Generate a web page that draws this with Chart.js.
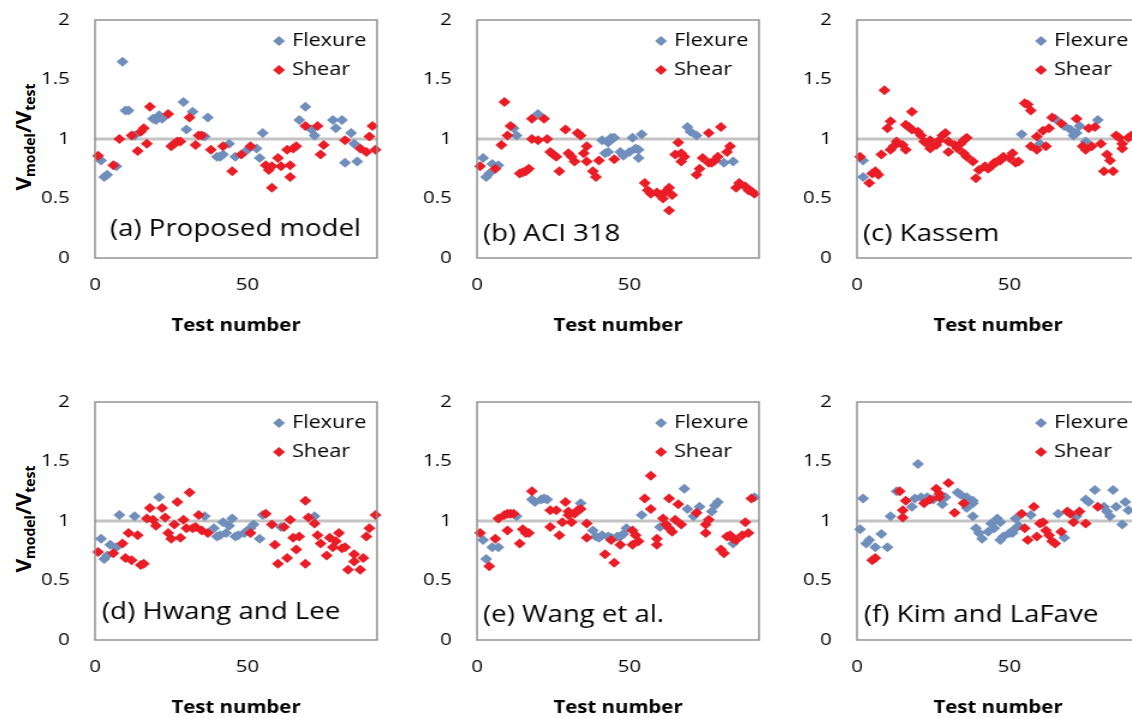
<!DOCTYPE html>
<html>
<head>
<meta charset="utf-8">
<script src="https://cdn.jsdelivr.net/npm/chart.js@4.4.1/dist/chart.umd.min.js"></script>
<style>
body { margin: 0; width: 1132px; height: 718px; overflow: hidden; background: #fff; font-family: "Open Sans", sans-serif; }
.wrap { position: absolute; transform-origin: 0 0; }
.wrap canvas { display: block; }
.ytitle { position: absolute; font-weight: bold; font-size: 21px; color: #000; white-space: nowrap;
  transform: translate(-50%, -50%) rotate(-90deg); }
.ytitle sub { font-size: 14px; vertical-align: -4px; }
</style>
</head>
<body>
<div class="ytitle" style="left:24px;top:137px">V<sub>model</sub>/V<sub>test</sub></div>
<div class="ytitle" style="left:24px;top:519px">V<sub>model</sub>/V<sub>test</sub></div>
<script>
// [test number, Vmodel/Vtest]
const aFlexure = [[2,0.82],[3,0.68],[4,0.70],[7,0.77],[9,1.65],[10,1.24],[11,1.24],[13,1.03],[19,1.17],[20,1.16],[21,1.20],[22,1.17],[29,1.31],[30,1.08],[32,1.23],[36,1.02],[37,1.18],[40,0.85],[41,0.85],[42,0.87],[44,0.96],[46,0.85],[50,0.91],[53,0.92],[54,0.84],[55,1.05],[67,1.16],[69,1.27],[71,1.08],[72,1.03],[78,1.16],[79,1.09],[81,1.16],[82,0.80],[84,1.05],[85,0.96],[86,0.81]]
const aShear = [[1,0.86],[6,0.78],[8,1.00],[12,1.03],[14,0.90],[15,1.06],[16,1.09],[17,0.96],[18,1.27],[24,1.21],[25,0.94],[26,0.96],[27,0.98],[28,0.98],[31,1.18],[33,0.95],[34,1.03],[35,1.03],[38,0.91],[42,0.94],[45,0.73],[48,0.87],[51,0.94],[56,0.78],[57,0.74],[58,0.59],[58,0.77],[60,0.84],[61,0.77],[63,0.91],[64,0.78],[64,0.68],[65,0.92],[66,0.94],[69,1.11],[73,1.11],[74,0.87],[75,0.95],[82,0.99],[87,0.92],[89,0.89],[90,1.02],[91,1.11],[92,0.91]]

const bFlexure = [[2,0.84],[3,0.68],[4,0.71],[5,0.79],[7,0.78],[12,1.09],[13,1.03],[20,1.21],[41,0.99],[42,0.88],[43,0.97],[43,0.89],[44,1.01],[45,1.01],[47,0.89],[48,0.86],[50,0.89],[51,1.01],[52,0.92],[53,0.91],[53,0.84],[54,1.04],[69,1.10],[70,1.06],[72,1.03],[81,0.80],[84,0.81]]
const bShear = [[1,0.77],[6,0.75],[8,0.95],[9,1.31],[10,1.03],[11,1.11],[14,0.71],[15,0.72],[16,0.73],[17,0.75],[18,1.17],[18,1.00],[20,0.99],[22,1.17],[23,1.00],[24,0.89],[25,0.87],[26,0.85],[27,0.73],[29,1.08],[30,0.88],[31,0.85],[32,0.81],[33,1.05],[34,1.03],[35,0.88],[36,0.81],[36,0.94],[38,0.73],[39,0.68],[40,0.82],[45,0.83],[55,0.63],[56,0.57],[57,0.54],[59,0.55],[60,0.53],[61,0.50],[62,0.56],[63,0.40],[63,0.59],[64,0.53],[65,0.87],[66,0.97],[67,0.81],[67,0.88],[68,0.85],[72,0.70],[73,0.75],[74,0.84],[76,0.80],[76,1.05],[77,0.80],[78,0.82],[79,0.85],[80,1.10],[82,0.89],[83,0.94],[85,0.59],[86,0.63],[88,0.60],[89,0.57],[90,0.56],[91,0.54]]

const cFlexure = [[2,0.82],[2,0.68],[54,1.04],[60,0.96],[65,1.17],[68,1.11],[70,1.08],[71,1.03],[72,1.05],[73,1.11],[75,0.98],[79,1.16]]
const cShear = [[1,0.85],[4,0.63],[5,0.71],[6,0.73],[7,0.70],[8,0.87],[9,1.41],[10,1.09],[11,1.15],[11,0.91],[12,0.94],[13,0.98],[15,0.95],[16,0.91],[16,1.12],[17,1.10],[18,1.23],[18,1.08],[20,1.06],[21,1.03],[22,0.98],[23,0.96],[24,0.99],[24,0.92],[26,0.95],[27,0.99],[28,1.03],[29,1.05],[30,0.89],[30,0.98],[32,0.95],[33,0.92],[34,0.96],[35,0.99],[35,0.88],[36,1.01],[36,0.85],[38,0.81],[39,0.67],[40,0.74],[42,0.77],[43,0.75],[44,0.77],[45,0.80],[46,0.81],[47,0.82],[48,0.85],[50,0.84],[51,0.88],[52,0.80],[53,0.81],[55,1.30],[56,1.29],[57,1.24],[57,0.94],[59,1.02],[59,0.91],[61,1.07],[62,0.94],[63,1.09],[64,1.18],[67,1.13],[72,1.17],[74,0.94],[75,0.91],[76,1.09],[77,0.94],[78,1.10],[80,0.96],[81,0.73],[82,0.87],[83,0.82],[84,0.73],[85,1.03],[86,1.01],[87,0.92],[87,0.96],[89,1.01],[90,1.03]]

const dFlexure = [[2,0.85],[3,0.68],[4,0.71],[5,0.80],[7,0.78],[8,1.05],[13,1.04],[21,1.20],[36,1.04],[39,0.94],[40,0.87],[41,0.88],[42,0.99],[43,0.90],[44,0.96],[45,1.02],[46,0.87],[47,0.88],[49,0.90],[50,0.92],[51,0.94],[52,0.97],[54,0.85],[55,1.05],[61,0.95],[72,1.04]]
const dShear = [[1,0.74],[6,0.73],[9,0.81],[10,0.69],[11,0.90],[12,0.67],[14,0.88],[15,0.63],[16,0.64],[17,1.02],[18,1.11],[19,1.01],[20,0.96],[22,1.11],[23,1.03],[24,0.90],[25,0.85],[26,0.97],[27,1.16],[28,0.86],[29,1.01],[30,0.94],[31,1.24],[32,0.94],[33,0.95],[34,1.05],[35,0.92],[37,0.90],[51,0.90],[56,1.06],[58,0.97],[59,0.80],[60,0.64],[62,0.95],[63,0.69],[64,1.01],[65,0.86],[66,0.76],[67,0.87],[69,0.64],[69,1.17],[70,1.03],[72,0.98],[73,0.88],[74,0.81],[76,0.71],[77,0.86],[78,0.78],[79,0.83],[80,0.90],[81,0.77],[82,0.78],[83,0.59],[85,0.66],[85,0.72],[87,0.59],[88,0.69],[89,0.87],[90,0.94],[92,1.05]]

const eFlexure = [[2,0.84],[3,0.68],[5,0.78],[7,0.78],[13,1.04],[18,1.18],[19,1.16],[21,1.18],[22,1.19],[23,1.18],[34,1.15],[38,0.92],[39,0.87],[40,0.86],[41,0.88],[43,0.87],[44,0.86],[46,0.87],[47,0.87],[48,0.89],[49,0.94],[54,1.05],[60,0.95],[68,1.27],[69,1.10],[71,1.04],[73,1.12],[77,1.08],[78,1.13],[79,1.16],[84,0.81],[91,1.20]]
const eShear = [[1,0.90],[4,0.62],[6,0.85],[7,1.02],[9,1.05],[10,1.06],[10,0.92],[11,1.06],[12,1.06],[14,0.81],[15,0.93],[16,0.90],[17,0.90],[18,1.25],[24,1.09],[24,0.95],[26,1.09],[27,0.88],[28,0.99],[29,1.16],[30,1.08],[30,1.05],[31,0.99],[32,1.06],[33,1.09],[34,1.10],[36,0.86],[36,0.98],[42,0.72],[44,0.84],[45,0.65],[47,0.80],[51,0.80],[51,0.92],[52,0.88],[53,0.83],[55,1.19],[57,1.10],[57,1.38],[59,0.85],[59,0.80],[61,1.02],[62,0.97],[63,0.94],[63,1.19],[64,0.91],[65,1.01],[66,1.14],[67,0.97],[72,1.07],[75,0.90],[75,0.97],[76,1.01],[80,0.76],[81,0.73],[82,0.87],[83,0.88],[84,0.85],[85,0.84],[87,0.88],[88,0.99],[89,0.90],[90,1.19]]

const fFlexure = [[1,0.93],[2,1.19],[3,0.81],[4,0.84],[6,0.78],[8,0.89],[10,0.78],[11,1.04],[13,1.25],[18,1.12],[19,1.19],[20,1.48],[21,1.20],[23,1.20],[25,1.18],[28,1.14],[29,1.20],[33,1.24],[34,1.22],[35,1.15],[36,1.11],[36,1.20],[38,1.15],[38,1.17],[38,1.04],[39,0.94],[40,0.90],[41,0.85],[43,0.91],[44,0.98],[45,0.94],[46,1.02],[47,0.99],[47,0.84],[48,0.87],[50,0.90],[51,0.90],[52,0.94],[52,1.02],[53,0.96],[57,1.05],[66,1.06],[68,0.86],[72,1.04],[75,1.18],[76,1.16],[78,1.26],[81,1.12],[82,1.08],[83,1.04],[84,1.26],[85,1.12],[87,0.97],[88,1.16],[89,1.09]]
const fShear = [[5,0.67],[6,0.69],[14,1.25],[15,1.03],[15,1.09],[16,1.17],[22,1.15],[24,1.18],[26,1.27],[27,1.20],[27,1.23],[30,1.32],[32,1.07],[35,1.15],[54,1.06],[55,0.94],[56,0.84],[58,1.12],[59,0.87],[60,0.98],[61,0.99],[62,0.92],[63,0.88],[64,0.83],[65,0.81],[67,0.91],[69,1.08],[70,1.06],[71,0.99],[73,1.08],[75,0.98],[79,1.12]]

const xTicks = [0, 50]
const yTicks = [0, 0.5, 1, 1.5, 2]
const xMax = 92.5
const refValue = 1
const seriesNames = ['Flexure', 'Shear']
const flexColor = '#6f8ebb'
const shearColor = '#ea1d26'

const panels = [
  { label: '(a) Proposed model', flex: aFlexure, shear: aShear, left: 95, top: 20, lx: 15, ly: 22 },
  { label: '(b) ACI 318', flex: bFlexure, shear: bShear, left: 477, top: 20, lx: 6, ly: 17 },
  { label: '(c) Kassem', flex: cFlexure, shear: cShear, left: 857, top: 20, lx: 6, ly: 17 },
  { label: '(d) Hwang and Lee', flex: dFlexure, shear: dShear, left: 95, top: 402, lx: 7, ly: 21 },
  { label: '(e) Wang et al.', flex: eFlexure, shear: eShear, left: 477, top: 402, lx: 6, ly: 18 },
  { label: '(f) Kim and LaFave', flex: fFlexure, shear: fShear, left: 857, top: 402, lx: 7, ly: 18 }
]

Chart.defaults.font.family = '"Open Sans", sans-serif'
Chart.defaults.color = '#000'

// the figure is stretched sideways, so each canvas is drawn narrow and scaled in x
const S = 1.2
const PW = 282 / S, PH = 238, YW = 70, PADT = 14, PADR = 8, XH = 82

function diamond(ctx, x, y, r) {
  ctx.beginPath()
  ctx.moveTo(x - r, y); ctx.lineTo(x, y - r); ctx.lineTo(x + r, y); ctx.lineTo(x, y + r)
  ctx.closePath()
  ctx.fill()
}

const panelDecor = {
  id: 'panelDecor',
  afterDraw(chart) {
    const { ctx, chartArea: a } = chart
    const p = chart.options.plugins.panelDecor
    ctx.save()
    ctx.strokeStyle = '#8a8a8a'
    ctx.lineWidth = 1.4
    ctx.strokeRect(a.left, a.top, a.right - a.left, a.bottom - a.top)
    // legend inside plot
    ctx.font = '18px "Open Sans"'
    ctx.textBaseline = 'middle'
    ctx.textAlign = 'left'
    const cols = [flexColor, shearColor]
    seriesNames.forEach((name, i) => {
      const y = a.top + 21 + i * 29
      ctx.fillStyle = cols[i]
      diamond(ctx, a.left + 184 / S, y, 5)
      ctx.fillStyle = '#000'
      ctx.fillText(name, a.left + 197 / S, y)
    })
    ctx.font = '23px "Open Sans"'
    ctx.textBaseline = 'alphabetic'
    ctx.fillText(p.label, a.left + p.lx / S, a.bottom - p.ly)
    ctx.restore()
  }
}

const toPts = arr => arr.map(d => ({ x: d[0], y: d[1] }))

panels.forEach(p => {
  const wrap = document.createElement('div')
  wrap.className = 'wrap'
  wrap.style.transform = 'scaleX(' + S + ')'
  const cv = document.createElement('canvas')
  cv.width = Math.round(YW + PW + PADR)
  cv.height = PADT + PH + XH
  wrap.appendChild(cv)
  document.body.appendChild(wrap)

  const chart = new Chart(cv, {
    type: 'scatter',
    data: {
      datasets: [
        { label: seriesNames[1], data: toPts(p.shear), backgroundColor: shearColor, borderWidth: 0,
          pointStyle: 'rectRot', pointRadius: 5, order: 0, clip: false },
        { label: seriesNames[0], data: toPts(p.flex), backgroundColor: flexColor, borderWidth: 0,
          pointStyle: 'rectRot', pointRadius: 5, order: 1, clip: false },
        { type: 'line', data: [{ x: xTicks[0], y: refValue }, { x: xMax, y: refValue }],
          borderColor: '#c3c3c3', borderWidth: 3, pointRadius: 0, order: 2 }
      ]
    },
    options: {
      responsive: false,
      animation: false,
      layout: { padding: { top: PADT, right: PADR, left: 0, bottom: 0 } },
      plugins: {
        legend: { display: false },
        tooltip: { enabled: false },
        panelDecor: p
      },
      scales: {
        x: {
          type: 'linear', min: 0, max: xMax,
          grid: { display: false, drawTicks: false },
          border: { display: false },
          afterBuildTicks: s => { s.ticks = xTicks.map(v => ({ value: v })) },
          afterFit: s => { s.height = XH; s.paddingLeft = 0; s.paddingRight = 0 },
          ticks: { font: { size: 17 }, padding: 17, maxRotation: 0 },
          title: { display: true, text: 'Test number', font: { size: 17, weight: 'bold' }, padding: { top: 0, bottom: 4 } }
        },
        y: {
          min: 0, max: 2,
          grid: { display: false, drawTicks: false },
          border: { display: false },
          afterBuildTicks: s => { s.ticks = yTicks.map(v => ({ value: v })) },
          afterFit: s => { s.width = YW; s.paddingTop = 0; s.paddingBottom = 0 },
          ticks: { font: { size: 17 }, padding: 21, callback: v => String(v) }
        }
      }
    },
    plugins: [panelDecor]
  })
  // line the plot area up with the reference frame
  const a = chart.chartArea
  wrap.style.left = (p.left - S * a.left) + 'px'
  wrap.style.top = (p.top - a.top) + 'px'
})
</script>
</body>
</html>
